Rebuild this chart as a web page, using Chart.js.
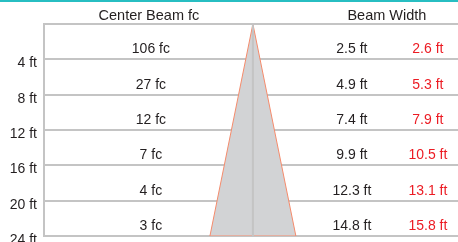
<!DOCTYPE html>
<html>
<head>
<meta charset="utf-8">
<script src="https://cdn.jsdelivr.net/npm/chart.js@4.4.1/dist/chart.umd.min.js"></script>
<style>
  html, body { margin: 0; padding: 0; background: #fff; }
  #wrap { position: relative; width: 458px; height: 242px; }
</style>
</head>
<body>
<div id="wrap"><canvas id="c" width="458" height="242"></canvas></div>
<script>
// ---- data ----
const depthTicks = [0, 4, 8, 12, 16, 20, 24];          // ft
const rowDepths = [4, 8, 12, 16, 20, 24];              // ft
const centerBeamFc = [106, 27, 12, 7, 4, 3];           // fc
const beamWidth = [2.5, 4.9, 7.4, 9.9, 12.3, 14.8];    // ft (black)
const beamWidthAlt = [2.6, 5.3, 7.9, 10.5, 13.1, 15.8]; // ft (red)
const headerFc = 'Center Beam fc';
const headerWidth = 'Beam Width';

// cone: apex at 0 ft, widest at deepest row using the widest beam width
const maxDepth = rowDepths[rowDepths.length - 1];
const maxHalf = beamWidthAlt[beamWidthAlt.length - 1] / 2;
const conePoints = [
  { x: 0, y: 0 },
  { x: -maxHalf, y: maxDepth },
  { x: maxHalf, y: maxDepth },
  { x: 0, y: 0 }
];
const centerLine = [{ x: 0, y: 0 }, { x: 0, y: maxDepth }];

const FONT = '"Liberation Sans", Arial, sans-serif';
const TEXT = '#231f20';
const RED = '#ec1c24';
const GRID = '#c4c4c4';

const labelsPlugin = {
  id: 'labels',
  afterDraw(chart) {
    const ctx = chart.ctx;
    const xs = chart.scales.x, ys = chart.scales.y;
    const cx = xs.getPixelForValue(0);
    ctx.save();
    // teal top rule
    ctx.fillStyle = '#27bec2';
    ctx.fillRect(0, 0, chart.width, 2);
    ctx.textAlign = 'center';
    ctx.textBaseline = 'alphabetic';
    const top = ys.getPixelForValue(0);
    ctx.fillStyle = TEXT;
    ctx.font = '14.5px ' + FONT;
    ctx.fillText(headerFc, cx - 104, top - 4);
    ctx.fillText(headerWidth, cx + 134, top - 4);
    ctx.font = '14px ' + FONT;
    rowDepths.forEach((d, i) => {
      const y = ys.getPixelForValue(d) - 6;
      ctx.fillStyle = TEXT;
      ctx.fillText(centerBeamFc[i] + ' fc', cx - 102, y);
      ctx.fillText(beamWidth[i] + ' ft', cx + 99, y);
      ctx.fillStyle = RED;
      ctx.fillText(beamWidthAlt[i] + ' ft', cx + 175, y);
    });
    ctx.restore();
  }
};

new Chart(document.getElementById('c'), {
  type: 'line',
  data: {
    datasets: [
      {
        data: centerLine,
        borderColor: GRID,
        borderWidth: 2,
        pointRadius: 0,
        fill: false,
        order: 0
      },
      {
        data: conePoints,
        fill: 'shape',
        backgroundColor: '#d2d3d5',
        borderColor: '#f58b6c',
        borderWidth: 1,
        pointRadius: 0,
        tension: 0,
        order: 1
      }
    ]
  },
  options: {
    responsive: false,
    animation: false,
    devicePixelRatio: 1,
    layout: { padding: { top: 24, bottom: 6, left: 0, right: 0 } },
    plugins: { legend: { display: false }, tooltip: { enabled: false } },
    scales: {
      x: {
        type: 'linear',
        display: false,
        min: -38.4,
        max: 37.7
      },
      y: {
        type: 'linear',
        reverse: true,
        min: depthTicks[0],
        max: depthTicks[depthTicks.length - 1],
        z: 1,
        afterBuildTicks: s => { s.ticks = depthTicks.map(v => ({ value: v })); },
        afterFit: s => { s.width = 44; s.paddingTop = 0; s.paddingBottom = 0; },
        grid: { color: GRID, lineWidth: 2, drawTicks: false },
        border: { color: GRID, width: 2 },
        ticks: {
          color: TEXT,
          padding: 7,
          labelOffset: 4,
          font: { family: FONT, size: 14 },
          callback: v => (v === 0 ? '' : v + ' ft')
        }
      }
    }
  },
  plugins: [labelsPlugin]
});
</script>
</body>
</html>
